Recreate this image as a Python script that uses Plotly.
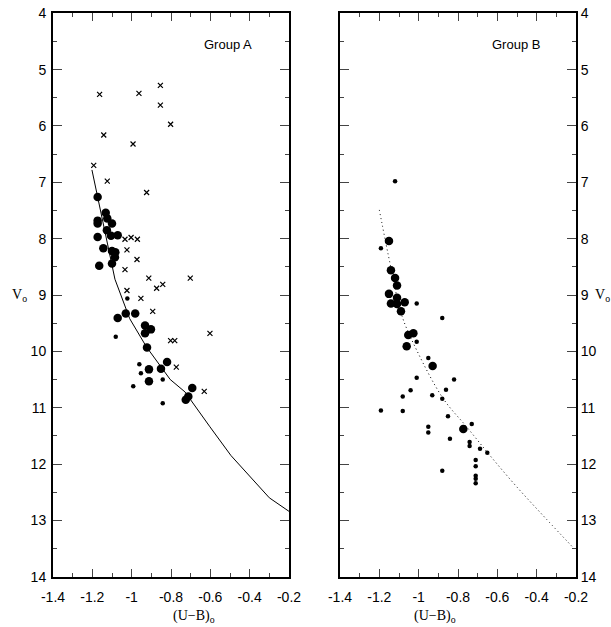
import plotly.graph_objects as go

# ---------------- Group A data ----------------
a_cross_x = [-1.163, -0.963, -0.854, -0.854, -0.802, -1.142, -0.993, -1.193, -1.124, -0.924,
             -1.034, -1.003, -0.971, -1.024, -0.973, -1.034, -0.913, -0.702, -0.873, -0.842,
             -1.024, -0.953, -0.893, -0.602, -0.802, -0.781, -0.773, -0.631]
a_cross_y = [5.44, 5.42, 5.28, 5.63, 5.97, 6.16, 6.32, 6.70, 6.98, 7.18,
             8.01, 7.98, 8.01, 8.20, 8.37, 8.55, 8.70, 8.70, 8.88, 8.81,
             8.92, 9.06, 9.29, 9.68, 9.81, 9.81, 10.28, 10.71]

a_big_x = [-1.173, -1.132, -1.173, -1.173, -1.124, -1.100, -1.126, -1.173, -1.105, -1.071,
           -1.144, -1.100, -1.083, -1.085, -1.100, -1.165, -1.071, -1.030, -0.982,
           -0.932, -0.932, -0.902, -0.922, -0.820, -0.851, -0.912, -0.912, -0.692, -0.712, -0.725]
a_big_y = [7.26, 7.54, 7.68, 7.73, 7.64, 7.73, 7.85, 7.97, 7.95, 7.94,
           8.17, 8.22, 8.24, 8.33, 8.44, 8.48, 9.41, 9.33, 9.33,
           9.54, 9.68, 9.61, 9.93, 10.19, 10.31, 10.32, 10.53, 10.65, 10.80, 10.86]

a_small_x = [-1.022, -1.081, -0.961, -0.953, -0.992, -0.842, -0.842]
a_small_y = [9.06, 9.74, 10.23, 10.39, 10.62, 10.50, 10.92]

a_line_x = [-1.202, -1.085, -1.010, -0.925, -0.804, -0.729, -0.602, -0.495, -0.300, -0.200]
a_line_y = [6.78, 8.72, 9.42, 9.92, 10.50, 10.72, 11.34, 11.85, 12.60, 12.84]

# ---------------- Group B data ----------------
b_big_x = [-1.151, -1.141, -1.120, -1.110, -1.151, -1.110, -1.141, -1.110, -1.071, -1.090,
           -1.053, -1.027, -1.061, -0.929, -0.773]
b_big_y = [8.04, 8.56, 8.70, 8.83, 8.98, 9.05, 9.15, 9.16, 9.13, 9.29,
           9.71, 9.68, 9.91, 10.26, 11.38]

b_small_x = [-1.120, -1.192, -1.010, -0.880, -1.010, -0.951, -1.010, -0.820, -1.041, -0.861,
             -1.081, -0.931, -0.880, -1.192, -1.081, -0.851, -0.730, -0.951, -0.951, -0.841,
             -0.741, -0.741, -0.688, -0.651, -0.710, -0.710, -0.710, -0.710, -0.710, -0.880]
b_small_y = [6.98, 8.17, 9.15, 9.41, 9.83, 10.12, 10.47, 10.50, 10.69, 10.68,
             10.80, 10.78, 10.84, 11.05, 11.06, 11.15, 11.29, 11.34, 11.44, 11.55,
             11.61, 11.68, 11.73, 11.80, 11.93, 12.04, 12.21, 12.26, 12.34, 12.12]

b_line_x = [-1.200, -1.142, -1.086, -1.010, -0.875, -0.756, -0.630, -0.500, -0.350, -0.210]
b_line_y = [7.49, 8.50, 9.36, 9.98, 10.84, 11.34, 11.88, 12.41, 12.98, 13.50]

x_ticks = [-1.4, -1.2, -1.0, -0.8, -0.6, -0.4, -0.2]
x_tick_text = ["-1.4", "-1.2", "-1", "-0.8", "-0.6", "-0.4", "-0.2"]
y_ticks = [4, 5, 6, 7, 8, 9, 10, 11, 12, 13, 14]

W, H = 611, 627
fig = go.Figure()

fig.add_trace(go.Scatter(x=a_line_x, y=a_line_y, mode="lines",
                         line=dict(color="black", width=1), xaxis="x", yaxis="y", showlegend=False))
fig.add_trace(go.Scatter(x=a_cross_x, y=a_cross_y, mode="markers",
                         marker=dict(symbol="x-thin", size=5, line=dict(color="black", width=1.2)),
                         xaxis="x", yaxis="y", showlegend=False))
fig.add_trace(go.Scatter(x=a_big_x, y=a_big_y, mode="markers",
                         marker=dict(color="black", size=8.5), xaxis="x", yaxis="y", showlegend=False))
fig.add_trace(go.Scatter(x=a_small_x, y=a_small_y, mode="markers",
                         marker=dict(color="black", size=4.5), xaxis="x", yaxis="y", showlegend=False))

fig.add_trace(go.Scatter(x=b_line_x, y=b_line_y, mode="lines", line_shape="spline",
                         line=dict(color="black", width=1, dash="1px,3px"), xaxis="x2", yaxis="y2",
                         showlegend=False))
fig.add_trace(go.Scatter(x=b_big_x, y=b_big_y, mode="markers",
                         marker=dict(color="black", size=8.5), xaxis="x2", yaxis="y2", showlegend=False))
fig.add_trace(go.Scatter(x=b_small_x, y=b_small_y, mode="markers",
                         marker=dict(color="black", size=4.5), xaxis="x2", yaxis="y2", showlegend=False))

tickfont = dict(family="Liberation Sans, Arial", size=14, color="black")
common_x = dict(range=[-1.4, -0.2], tickvals=x_ticks, ticktext=x_tick_text, ticks="inside",
                ticklen=8, tickwidth=1, tickcolor="#444", showline=True, linecolor="black", linewidth=2,
                mirror="ticks", showgrid=False, zeroline=False, tickfont=tickfont, automargin=False,
                ticklabelstandoff=6,
                minor=dict(dtick=0.1, tick0=-1.4, ticks="inside", ticklen=4, tickcolor="#444", showgrid=False))
common_y = dict(range=[14, 4], tickvals=y_ticks, ticks="inside",
                ticklen=9, tickwidth=1, tickcolor="#444", showline=True, linecolor="black", linewidth=2,
                mirror="ticks", showgrid=False, zeroline=False, tickfont=tickfont, automargin=False,
                minor=dict(dtick=0.5, tick0=4, ticks="inside", ticklen=4, tickcolor="#444", showgrid=False))

ydom = [1 - 576.7 / H, 1 - 13.3 / H]
fig.update_layout(
    width=W, height=H, margin=dict(l=0, r=0, t=0, b=0, autoexpand=False),
    paper_bgcolor="white", plot_bgcolor="white",
    xaxis=dict(domain=[53 / W, 289 / W], anchor="y", **common_x),
    yaxis=dict(domain=ydom, anchor="x", side="left", ticklabelstandoff=2, **common_y),
    xaxis2=dict(domain=[340 / W, 576 / W], anchor="y2", **common_x),
    yaxis2=dict(domain=ydom, anchor="x2", side="right", ticklabelstandoff=0, **common_y),
)

serif = "Liberation Serif, Times New Roman"
fig.add_annotation(text="Group A", x=-0.51, y=4.55, xref="x", yref="y", showarrow=False,
                   font=dict(family="Liberation Sans, Arial", size=13, color="black"))
fig.add_annotation(text="Group B", x=-0.507, y=4.55, xref="x2", yref="y2", showarrow=False,
                   font=dict(family="Liberation Sans, Arial", size=13, color="black"))
fig.add_annotation(text="(U−B)<sub>o</sub>", x=171 / W, y=1 - 606 / H,
                   xref="paper", yref="paper", yanchor="top", showarrow=False,
                   font=dict(family=serif, size=14, color="black"))
fig.add_annotation(text="(U−B)<sub>o</sub>", x=458 / W, y=1 - 606 / H,
                   xref="paper", yref="paper", yanchor="top", showarrow=False,
                   font=dict(family=serif, size=14, color="black"))
fig.add_annotation(text="V<sub>o</sub>", x=10 / W, y=1 - 295 / H, xref="paper",
                   yref="paper", xanchor="left", showarrow=False,
                   font=dict(family=serif, size=14, color="black"))
fig.add_annotation(text="V<sub>o</sub>", x=593 / W, y=1 - 295 / H, xref="paper",
                   yref="paper", xanchor="left", showarrow=False,
                   font=dict(family=serif, size=14, color="black"))

# remove the browser's default 8px body margin so the figure fills the window exactly
fig.write_html("out.html", config={"displayModeBar": False},
               post_script="document.body.style.margin='0px';")
